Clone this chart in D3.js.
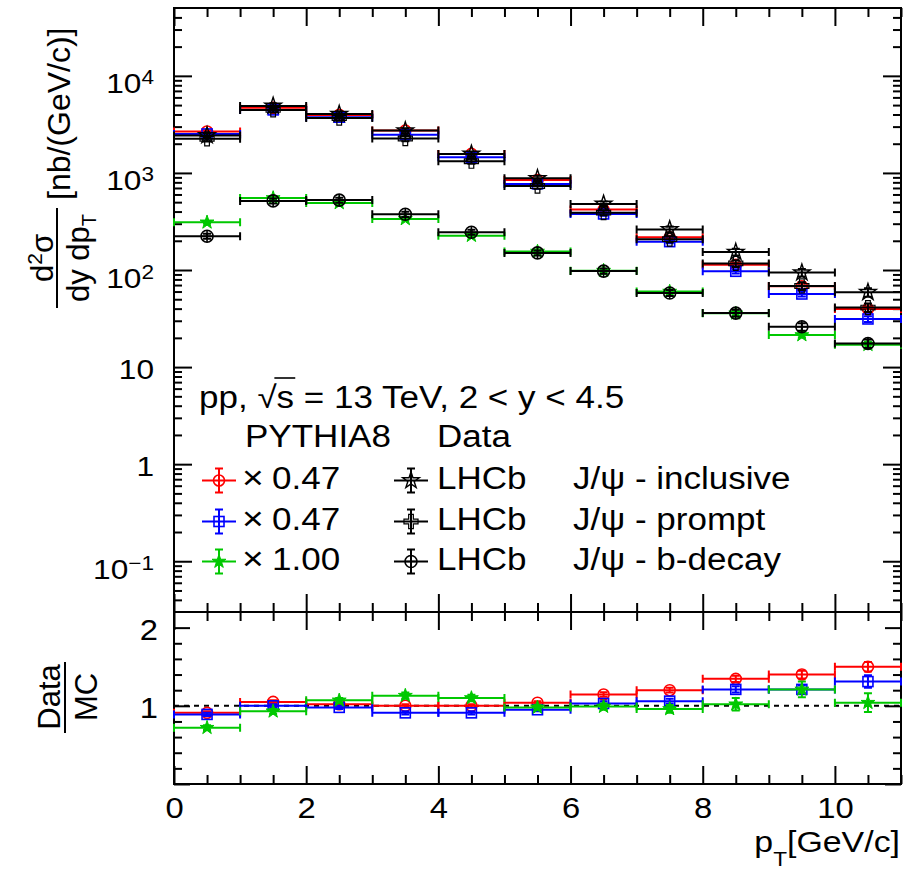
<!doctype html>
<html lang='en'>
<head>
<meta charset='utf-8'>
<title>J/psi cross section vs pT</title>
<script src='https://cdn.jsdelivr.net/npm/d3@7'></script>
<style>
    body { margin: 0; background: white; }
    svg text { font-family: 'Liberation Sans', Arial, sans-serif; fill: black; white-space: pre; }
    .frame { fill: none; stroke: black; stroke-width: 2px; }
    .tick line { stroke: black; stroke-width: 2px; }
    .domain { display: none; }
    .tick text { font-size: 29px; }
</style>
</head>
<body>
<svg id='chart' width='909' height='873'></svg>
<script>
    // pT bins [GeV/c]
    const binLo = [0, 1, 2, 3, 4, 5, 6, 7, 8, 9, 10];
    const binHi = [1, 2, 3, 4, 5, 6, 7, 8, 9, 10, 11];

    // PYTHIA8 (already scaled as in legend), nb/(GeV/c)
    const mcInclusive = [2670, 4680, 3960, 2730, 1570, 847, 419, 217, 113, 68, 39.6];
    const mcPrompt    = [2520, 4460, 3750, 2480, 1450, 771, 378, 196, 97, 56.6, 31.3];
    const mcBdecay    = [310, 552, 491, 336, 226, 155, 98.5, 60, 35.8, 21.4, 17];

    // LHCb data
    const dataInclusive = [2430, 4900, 4040, 2730, 1570, 880, 480, 262, 153, 94, 59];
    const dataPrompt    = [2245, 4460, 3675, 2260, 1320, 733, 390, 208, 117, 68.5, 41];
    const dataBdecay    = [223, 515, 525, 375, 245, 150, 97.5, 58, 36, 26, 17.5];

    // relative errors used in the upper pad
    const mcRelErr   = [0.03, 0.03, 0.03, 0.03, 0.03, 0.03, 0.04, 0.04, 0.05, 0.06, 0.07];
    const dataRelErr = [0.06, 0.06, 0.06, 0.06, 0.06, 0.06, 0.06, 0.07, 0.08, 0.09, 0.1];

    // Data / MC
    const ratioInclusive = [0.91, 1.05, 1.02, 1.0, 1.0, 1.04, 1.145, 1.2, 1.345, 1.4, 1.5];
    const ratioPrompt    = [0.89, 1.0, 0.98, 0.91, 0.91, 0.95, 1.03, 1.06, 1.21, 1.21, 1.31];
    const ratioBdecay    = [0.72, 0.93, 1.07, 1.13, 1.1, 0.98, 0.99, 0.96, 1.02, 1.21, 1.04];
    const ratioErrInclusive = [0.02, 0.02, 0.02, 0.02, 0.02, 0.02, 0.03, 0.03, 0.04, 0.05, 0.06];
    const ratioErrPrompt    = [0.02, 0.02, 0.02, 0.02, 0.02, 0.02, 0.03, 0.03, 0.04, 0.05, 0.08];
    const ratioErrBdecay    = [0.03, 0.03, 0.03, 0.04, 0.04, 0.03, 0.04, 0.05, 0.08, 0.1, 0.12];

    // axis ticks
    const xMajor = [0, 2, 4, 6, 8, 10];
    const xMinor = d3.range(0.5, 11.01, 0.5).filter(v => v % 2 !== 0);
    const yTopMajor = [0.1, 1, 10, 100, 1000, 10000];
    const yRatioMajor = [0, 1, 2];
    const yRatioMinor = d3.range(0.2, 2.2, 0.2).filter(v => Math.abs(v - Math.round(v)) > 0.01);

    const legendScales = ['0.47', '0.47', '1.00'];
    const legendLabels = ['J/\u03c8 - inclusive', 'J/\u03c8 - prompt', 'J/\u03c8 - b-decay'];

    const colors = { inclusive: '#ff0000', prompt: '#0000ff', bdecay: '#00c800' };

    // the original picture is a bit wider than tall, text looks stretched
    const SX = 1.13;

    const svg = d3.select('#chart');

    const left = 174, right = 901, topY = 8, midY = 612, botY = 784;

    const x = d3.scaleLinear().domain([0, 11]).range([left, right]);
    const yTop = d3.scaleLog().domain([0.03, 5e4]).range([midY, topY]);
    const yRatio = d3.scaleLinear().domain([0, 2.2]).range([botY, midY]);

    const yTopMinor = [];
    for (let e = -2; e <= 4; e++) {
        for (let k = 2; k <= 9; k++) {
            const v = k * Math.pow(10, e);
            if (v > 0.03 && v < 5e4) yTopMinor.push(v);
        }
    }

    function addAxis(axis, tx, ty) {
        return svg.append('g').attr('transform', `translate(${tx},${ty})`).call(axis);
    }

    // ---- ticks, upper pad
    addAxis(d3.axisTop(x).tickValues(xMajor).tickSize(-18).tickFormat(''), 0, topY);
    addAxis(d3.axisTop(x).tickValues(xMinor).tickSize(-9).tickFormat(''), 0, topY);
    addAxis(d3.axisBottom(x).tickValues(xMajor).tickSize(-18).tickFormat(''), 0, midY);
    addAxis(d3.axisBottom(x).tickValues(xMinor).tickSize(-9).tickFormat(''), 0, midY);
    const yAxisTop = addAxis(d3.axisLeft(yTop).tickValues(yTopMajor).tickSize(-18).tickFormat(''), left, 0);
    addAxis(d3.axisLeft(yTop).tickValues(yTopMinor).tickSize(-8).tickFormat(''), left, 0);
    addAxis(d3.axisRight(yTop).tickValues(yTopMajor).tickSize(-18).tickFormat(''), right, 0);
    addAxis(d3.axisRight(yTop).tickValues(yTopMinor).tickSize(-8).tickFormat(''), right, 0);

    // 10^n labels
    yAxisTop.selectAll('.tick text').each(function (d) {
        const t = d3.select(this).attr('dy', null).style('font-size', '28px')
            .attr('x', -20 / SX).attr('transform', `scale(${SX},1)`);
        const p = Math.round(Math.log10(d));
        if (p === 0 || p === 1) {
            t.attr('y', 11).text(p === 0 ? '1' : '10');
        } else {
            t.attr('y', 17).text('10');
            t.append('tspan').attr('dy', -9).style('font-size', '20px').text(p < 0 ? '\u2212' + (-p) : p);
        }
    });

    // ---- ticks, ratio pad
    addAxis(d3.axisTop(x).tickValues(xMajor).tickSize(-18).tickFormat(''), 0, midY);
    addAxis(d3.axisTop(x).tickValues(xMinor).tickSize(-9).tickFormat(''), 0, midY);
    addAxis(d3.axisBottom(x).tickValues(xMajor).tickSize(-18).tickPadding(13), 0, botY)
        .selectAll('.tick text').attr('transform', `scale(${SX},1)`);
    addAxis(d3.axisBottom(x).tickValues(xMinor).tickSize(-9).tickFormat(''), 0, botY);
    const yAxisRatio = addAxis(d3.axisLeft(yRatio).tickValues(yRatioMajor).tickSize(-16)
        .tickFormat(d => d === 0 ? '' : d), left, 0);
    yAxisRatio.selectAll('.tick text').attr('dy', '0.4em')
        .attr('x', -16 / SX).attr('transform', `scale(${SX},1)`);
    addAxis(d3.axisLeft(yRatio).tickValues(yRatioMinor).tickSize(-8).tickFormat(''), left, 0);
    addAxis(d3.axisRight(yRatio).tickValues(yRatioMajor).tickSize(-16).tickFormat(''), right, 0);
    addAxis(d3.axisRight(yRatio).tickValues(yRatioMinor).tickSize(-8).tickFormat(''), right, 0);

    // frames
    svg.append('rect').attr('class', 'frame')
        .attr('x', left).attr('y', topY).attr('width', right - left).attr('height', midY - topY);
    svg.append('rect').attr('class', 'frame')
        .attr('x', left).attr('y', midY).attr('width', right - left).attr('height', botY - midY);

    // unity line in ratio
    svg.append('line')
        .attr('x1', x(0)).attr('x2', x(11)).attr('y1', yRatio(1)).attr('y2', yRatio(1))
        .attr('stroke', 'black').attr('stroke-width', 2).attr('stroke-dasharray', '5,5');

    // ---- markers
    function drawMarker(g, type, color) {
        const sw = 1.6;
        if (type === 'circle') {
            g.append('circle').attr('r', 5.5).attr('fill', 'none')
                .attr('stroke', color).attr('stroke-width', sw);
        } else if (type === 'square') {
            g.append('rect').attr('x', -5).attr('y', -5).attr('width', 10).attr('height', 10)
                .attr('fill', 'none').attr('stroke', color).attr('stroke-width', sw);
        } else if (type === 'star') {
            g.append('path').attr('d', d3.symbol(d3.symbolStar, 60)())
                .attr('fill', color).attr('stroke', color).attr('stroke-width', 1);
        } else if (type === 'openstar') {
            g.append('path').attr('d', d3.symbol(d3.symbolStar, 85)())
                .attr('fill', 'none').attr('stroke', color).attr('stroke-width', 1.4);
        } else if (type === 'opencross') {
            g.append('path').attr('d', d3.symbol(d3.symbolCross, 110)())
                .attr('fill', 'none').attr('stroke', color).attr('stroke-width', 1.2);
        } else if (type === 'circleplus') {
            g.append('circle').attr('r', 6).attr('fill', 'none')
                .attr('stroke', color).attr('stroke-width', sw);
            g.append('path').attr('d', 'M-6,0H6M0,-6V6')
                .attr('stroke', color).attr('stroke-width', sw);
        }
    }

    function drawSeries(yScale, values, errs, color, type, relative) {
        const pts = values.map((v, i) => ({
            v: v, lo: binLo[i], hi: binHi[i],
            e: relative ? v * errs[i] : errs[i]
        }));
        const g = svg.append('g').selectAll('g').data(pts).enter().append('g');
        g.append('path')
            .attr('d', d => {
                const y0 = yScale(d.v), xl = x(d.lo), xh = x(d.hi);
                return `M${xl},${y0}H${xh}M${xl},${y0 - 4}V${y0 + 4}M${xh},${y0 - 4}V${y0 + 4}`;
            })
            .attr('stroke', color).attr('stroke-width', 2).attr('fill', 'none');
        g.append('path')
            .attr('d', d => {
                const xc = x((d.lo + d.hi) / 2), ya = yScale(d.v + d.e), yb = yScale(d.v - d.e);
                return `M${xc},${ya}V${yb}M${xc - 4},${ya}H${xc + 4}M${xc - 4},${yb}H${xc + 4}`;
            })
            .attr('stroke', color).attr('stroke-width', 2).attr('fill', 'none');
        g.append('g')
            .attr('transform', d => `translate(${x((d.lo + d.hi) / 2)},${yScale(d.v)})`)
            .each(function () { drawMarker(d3.select(this), type, color); });
    }

    // upper pad
    drawSeries(yTop, mcInclusive, mcRelErr, colors.inclusive, 'circle', true);
    drawSeries(yTop, mcPrompt, mcRelErr, colors.prompt, 'square', true);
    drawSeries(yTop, mcBdecay, mcRelErr, colors.bdecay, 'star', true);
    drawSeries(yTop, dataInclusive, dataRelErr, 'black', 'openstar', true);
    drawSeries(yTop, dataPrompt, dataRelErr, 'black', 'opencross', true);
    drawSeries(yTop, dataBdecay, dataRelErr, 'black', 'circleplus', true);

    // ratio pad
    drawSeries(yRatio, ratioInclusive, ratioErrInclusive, colors.inclusive, 'circle', false);
    drawSeries(yRatio, ratioPrompt, ratioErrPrompt, colors.prompt, 'square', false);
    drawSeries(yRatio, ratioBdecay, ratioErrBdecay, colors.bdecay, 'star', false);

    // ---- legend
    function label(px, py, str, size) {
        const g = svg.append('g').attr('transform', `translate(${px},${py}) scale(${SX},1)`);
        const t = g.append('text').style('font-size', (size || 31) + 'px').text(str);
        return { g: g, t: t };
    }

    const hdr = label(199, 408, 'pp, \u221as = 13 TeV, 2 < y < 4.5');
    const node = hdr.t.node();
    const sIdx = node.textContent.indexOf('\u221a');
    hdr.g.append('line')
        .attr('x1', node.getEndPositionOfChar(sIdx).x - 2)
        .attr('x2', node.getEndPositionOfChar(sIdx + 1).x + 1)
        .attr('y1', -30).attr('y2', -30)
        .attr('stroke', 'black').attr('stroke-width', 1.6);

    label(245, 447, 'PYTHIA8');
    label(437, 447, 'Data');

    const legendRows = [
        { color: colors.inclusive, mc: 'circle', data: 'openstar' },
        { color: colors.prompt, mc: 'square', data: 'opencross' },
        { color: colors.bdecay, mc: 'star', data: 'circleplus' }
    ];
    const rowBase = [489, 530, 570];

    function legendSymbol(cx, cy, color, type) {
        const g = svg.append('g').attr('transform', `translate(${cx},${cy})`);
        g.append('path').attr('d', 'M-17,0H17M0,-12V12M-4,-12H4M-4,12H4')
            .attr('stroke', color).attr('stroke-width', 2).attr('fill', 'none');
        drawMarker(g, type, color);
    }

    legendRows.forEach((r, i) => {
        const b = rowBase[i];
        legendSymbol(219, b - 8.5, r.color, r.mc);
        label(242, b, '\u00d7', 33);
        label(272, b, legendScales[i]);
        legendSymbol(411, b - 8.5, 'black', r.data);
        label(437, b, 'LHCb');
        label(573, b, legendLabels[i]);
    });

    // ---- axis titles
    const xt = svg.append('text').attr('transform', `translate(900,852) scale(${SX},1)`)
        .attr('text-anchor', 'end').style('font-size', '30px');
    xt.append('tspan').text('p');
    xt.append('tspan').attr('dy', 14).style('font-size', '20px').text('T');
    xt.append('tspan').attr('dy', -14).text('[GeV/c]');

    svg.append('text').attr('transform', 'translate(70,200) rotate(-90)')
        .style('font-size', '32px').text('[nb/(GeV/c)]');
    const num = svg.append('text').attr('transform', 'translate(53,258) rotate(-90)')
        .attr('text-anchor', 'middle').style('font-size', '31px');
    num.append('tspan').text('d');
    num.append('tspan').attr('dy', -11).style('font-size', '21px').text('2');
    num.append('tspan').attr('dy', 11).text('\u03c3');
    const den = svg.append('text').attr('transform', 'translate(89,258) rotate(-90)')
        .attr('text-anchor', 'middle').style('font-size', '31px');
    den.append('tspan').text('dy dp');
    den.append('tspan').attr('dy', 7).style('font-size', '20px').text('T');
    svg.append('line').attr('x1', 57).attr('x2', 57).attr('y1', 208).attr('y2', 308)
        .attr('stroke', 'black').attr('stroke-width', 2);

    svg.append('text').attr('transform', 'translate(60,697) rotate(-90)')
        .attr('text-anchor', 'middle').style('font-size', '31px').text('Data');
    svg.append('text').attr('transform', 'translate(97,697) rotate(-90)')
        .attr('text-anchor', 'middle').style('font-size', '31px').text('MC');
    svg.append('line').attr('x1', 65).attr('x2', 65).attr('y1', 662).attr('y2', 733)
        .attr('stroke', 'black').attr('stroke-width', 2);
</script>
</body>
</html>
